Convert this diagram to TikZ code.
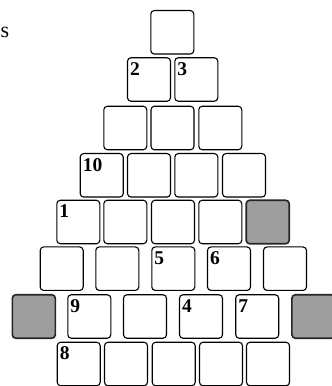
\documentclass[tikz,border=0pt]{standalone}
\usepackage{fontspec}
\setmainfont{Liberation Serif}
\begin{document}
\begin{tikzpicture}[x=1pt,y=1pt,
  cell/.style={draw=black, line width=1.1pt, rounded corners=3.5pt, minimum width=43pt, minimum height=43.5pt, inner sep=0pt, fill=white},
  shade/.style={cell, fill=black!38, draw=black!85, line width=1.6pt},
  num/.style={anchor=north west, inner sep=0pt, font=\fontsize{19.5}{19.5}\selectfont\bfseries},
  txt/.style={anchor=base west, inner sep=0pt, font=\fontsize{22}{22}\selectfont}]
\useasboundingbox (0,0) rectangle (332,386);
\clip (0,0) rectangle (332,386);
\node[txt] (s) at (0.5,348) {s};
% row 1
\node[cell] (a1) at (172.3,353.7) {};
% row 2
\node[cell] (b1) at (149,306.5) {};
\node[cell] (b2) at (196.3,306.5) {};
% row 3
\node[cell] (c1) at (125.3,258) {};
\node[cell] (c2) at (172.5,258) {};
\node[cell] (c3) at (220.3,258) {};
% row 4
\node[cell] (d1) at (101.7,210.7) {};
\node[cell] (d2) at (149,210.7) {};
\node[cell] (d3) at (196.3,210.7) {};
\node[cell] (d4) at (244,210.7) {};
% row 5
\node[cell] (e1) at (78.3,164) {};
\node[cell] (e2) at (125.3,164) {};
\node[cell] (e3) at (173,164) {};
\node[cell] (e4) at (220.3,164) {};
\node[shade] (e5) at (267.7,164) {};
% row 6
\node[cell] (f1) at (61.7,117.3) {};
\node[cell] (f2) at (117.3,117.3) {};
\node[cell] (f3) at (173.3,117.3) {};
\node[cell] (f4) at (229,117.3) {};
\node[cell] (f5) at (285,117.3) {};
% row 7
\node[shade] (g0) at (33.8,69.5) {};
\node[cell] (g1) at (89.3,69.5) {};
\node[cell] (g2) at (145,69.5) {};
\node[cell] (g3) at (201,69.5) {};
\node[cell] (g4) at (257.2,69.5) {};
\node[shade] (g5) at (313.4,69.5) {};
% row 8
\node[cell] (h1) at (78.7,22) {};
\node[cell] (h2) at (126,22) {};
\node[cell] (h3) at (173.7,22) {};
\node[cell] (h4) at (221,22) {};
\node[cell] (h5) at (268,22) {};
% numbers
\node[num] (n2) at ([shift={(3pt,-5pt)}]b1.north west) {2};
\node[num] (n3) at ([shift={(3pt,-5pt)}]b2.north west) {3};
\node[num] (n10) at ([shift={(3pt,-5pt)}]d1.north west) {10};
\node[num] (n1) at ([shift={(3pt,-5pt)}]e1.north west) {1};
\node[num] (n5) at ([shift={(3pt,-5pt)}]f3.north west) {5};
\node[num] (n6) at ([shift={(3pt,-5pt)}]f4.north west) {6};
\node[num] (n9) at ([shift={(3pt,-5pt)}]g1.north west) {9};
\node[num] (n4) at ([shift={(3pt,-5pt)}]g3.north west) {4};
\node[num] (n7) at ([shift={(3pt,-5pt)}]g4.north west) {7};
\node[num] (n8) at ([shift={(3pt,-5pt)}]h1.north west) {8};
\end{tikzpicture}
\end{document}
